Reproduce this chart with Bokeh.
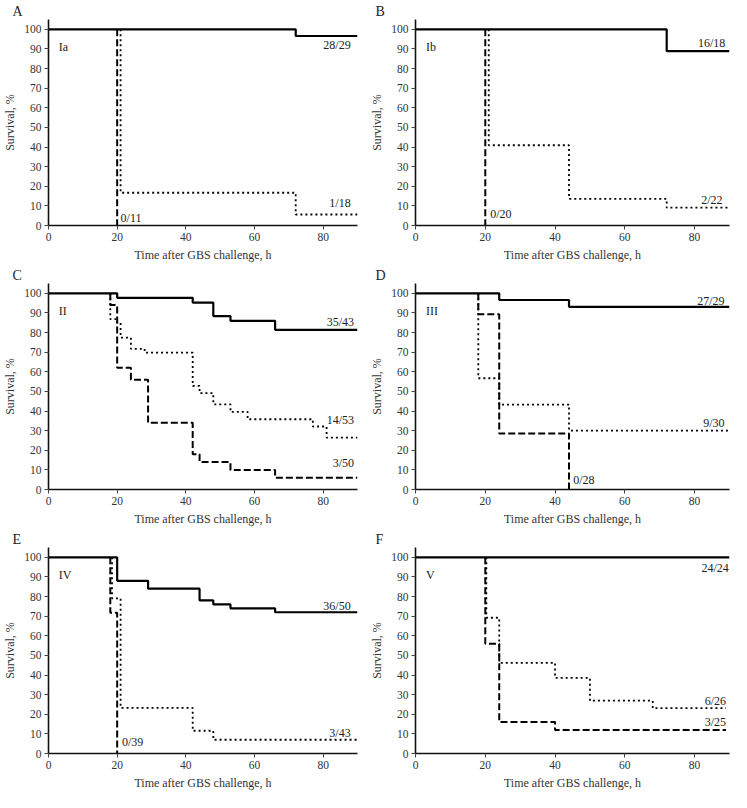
from bokeh.plotting import figure
from bokeh.layouts import gridplot
from bokeh.models import Range1d
from bokeh.core.properties import value
from bokeh.embed import file_html
from bokeh.resources import INLINE

FONT = "Liberation Serif"

# ---------------- data (time h, survival %) ----------------
A_solid_t = [0, 72, 90];            A_solid_s = [100, 96.6, 96.6]
A_dash_t = [0, 20];                 A_dash_s = [100, 0]
A_dot_t = [0, 21, 72, 90];          A_dot_s = [100, 16.7, 5.6, 5.6]

B_solid_t = [0, 72, 90];            B_solid_s = [100, 88.9, 88.9]
B_dash_t = [0, 20];                 B_dash_s = [100, 0]
B_dot_t = [0, 21, 44, 72, 90];      B_dot_s = [100, 40.9, 13.6, 9.1, 9.1]

C_solid_t = [0, 20, 42, 48, 53, 66, 90]
C_solid_s = [100, 97.7, 95.3, 88.4, 86.0, 81.4, 81.4]
C_dash_t = [0, 18, 20, 24, 29, 42, 44, 53, 66, 90]
C_dash_s = [100, 94, 62, 56, 34, 18, 14, 10, 6, 6]
C_dot_t = [0, 18, 20, 21, 24, 28, 42, 44, 48, 53, 58, 77, 81, 90]
C_dot_s = [100, 86.8, 84.9, 77.4, 71.7, 69.8, 52.8, 49.1, 43.4, 39.6, 35.8, 32.1, 26.4, 26.4]

D_solid_t = [0, 24, 44, 90];        D_solid_s = [100, 96.6, 93.1, 93.1]
D_dash_t = [0, 18, 24, 44];         D_dash_s = [100, 89.3, 28.6, 0]
D_dot_t = [0, 18, 24, 44, 90];      D_dot_s = [100, 56.7, 43.3, 30.0, 30.0]

E_solid_t = [0, 20, 29, 44, 48, 53, 66, 90]
E_solid_s = [100, 88, 84, 78, 76, 74, 72, 72]
E_dash_t = [0, 18, 20];             E_dash_s = [100, 71.8, 0]
E_dot_t = [0, 18.5, 21, 42, 48, 90]; E_dot_s = [100, 79.1, 23.3, 11.6, 7.0, 7.0]

F_solid_t = [0, 90];                F_solid_s = [100, 100]
F_dash_t = [0, 20, 24, 40, 89];     F_dash_s = [100, 56, 16, 12, 12]
F_dot_t = [0, 20.3, 24, 40, 50, 68, 89]
F_dot_s = [100, 69.2, 46.2, 38.5, 26.9, 23.1, 23.1]

panel_letters = ["A", "B", "C", "D", "E", "F"]
serotypes = ["Ia", "Ib", "II", "III", "IV", "V"]
count_labels = [
    ["28/29", "1/18", "0/11"],
    ["16/18", "2/22", "0/20"],
    ["35/43", "14/53", "3/50"],
    ["27/29", "9/30", "0/28"],
    ["36/50", "3/43", "0/39"],
    ["24/24", "6/26", "3/25"],
]
x_ticks = [0, 20, 40, 60, 80]
y_ticks = list(range(0, 101, 10))

series = [
    (A_solid_t, A_solid_s, A_dash_t, A_dash_s, A_dot_t, A_dot_s),
    (B_solid_t, B_solid_s, B_dash_t, B_dash_s, B_dot_t, B_dot_s),
    (C_solid_t, C_solid_s, C_dash_t, C_dash_s, C_dot_t, C_dot_s),
    (D_solid_t, D_solid_s, D_dash_t, D_dash_s, D_dot_t, D_dot_s),
    (E_solid_t, E_solid_s, E_dash_t, E_dash_s, E_dot_t, E_dot_s),
    (F_solid_t, F_solid_s, F_dash_t, F_dash_s, F_dot_t, F_dot_s),
]

# label placements (x, y, align) -- layout only
label_pos = [
    [(88, 92, "right"), (88, 11.6, "right"), (21, 3.8, "left")],
    [(88.8, 93, "right"), (88, 13, "right"), (21.4, 6, "left")],
    [(89, 85.3, "right"), (89, 35.5, "right"), (89, 13.7, "right")],
    [(88.6, 96.3, "right"), (88.6, 33.8, "right"), (45.2, 4.9, "left")],
    [(88, 75, "right"), (88, 10.5, "right"), (21.4, 6, "left")],
    [(89.8, 94.5, "right"), (89, 27, "right"), (89, 16, "right")],
]

TEXT_COL = "#222222"


def hidden_start(t):
    # the 100 % segment before the first event lies under the solid curve;
    # begin the broken curves at their first event so they do not show through
    return [t[1]] + list(t[1:])


def make_panel(i):
    col = i % 2
    p = figure(width=365 if col == 0 else 366, height=264,
               x_range=Range1d(0, 90), y_range=Range1d(0, 105),
               output_backend="svg", toolbar_location=None,
               min_border_left=30 if col == 0 else 50,
               min_border_right=8 if col == 0 else 2,
               min_border_top=4, min_border_bottom=10)
    p.title.text = panel_letters[i]
    p.title.text_font = FONT
    p.title.text_font_size = "14px"
    p.title.text_font_style = "normal"
    p.title.text_color = TEXT_COL
    p.title.align = "left"
    p.title.offset = -36 if col == 0 else -40
    p.title.standoff = 2
    p.outline_line_color = None
    p.grid.visible = False
    p.background_fill_color = "white"

    p.xaxis.ticker = x_ticks
    p.yaxis.ticker = y_ticks
    p.xaxis.axis_label = "Time after GBS challenge, h"
    p.yaxis.axis_label = "Survival, %"
    for ax in (p.xaxis, p.yaxis):
        ax.axis_label_text_font = FONT
        ax.axis_label_text_font_style = "normal"
        ax.axis_label_text_font_size = "12px"
        ax.axis_label_text_color = "#333333"
        ax.axis_label_standoff = 4
        ax.major_label_text_font = FONT
        ax.major_label_text_font_size = "11.5px"
        ax.major_label_text_color = "#333333"
        ax.major_label_standoff = 3
        ax.axis_line_color = "#111111"
        ax.axis_line_width = 1.6
        ax.major_tick_line_color = "#444444"
        ax.major_tick_out = 4
        ax.major_tick_in = 0
        ax.minor_tick_out = 0
        ax.minor_tick_in = 0

    st, ss, dt, ds, ot, os_ = series[i]
    p.step(hidden_start(ot), os_, mode="after", line_color="black", line_width=1.8, line_dash="2 3")
    p.step(hidden_start(dt), ds, mode="after", line_color="black", line_width=2, line_dash="7 3")
    p.step(st, ss, mode="after", line_color="black", line_width=2.2)

    p.text(x=[3], y=[91], text=[serotypes[i]], text_font=value(FONT), text_font_size="12px",
           text_color=TEXT_COL, text_align="left", text_baseline="middle")
    for lab, (lx, ly, al) in zip(count_labels[i], label_pos[i]):
        p.text(x=[lx], y=[ly], text=[lab], text_font=value(FONT), text_font_size="12px",
               text_color=TEXT_COL, text_align=al, text_baseline="middle")
    return p


panels = [make_panel(i) for i in range(6)]
grid = gridplot([[panels[0], panels[1]], [panels[2], panels[3]], [panels[4], panels[5]]],
                toolbar_location=None)

open("out.html", "w").write(file_html(grid, INLINE))
